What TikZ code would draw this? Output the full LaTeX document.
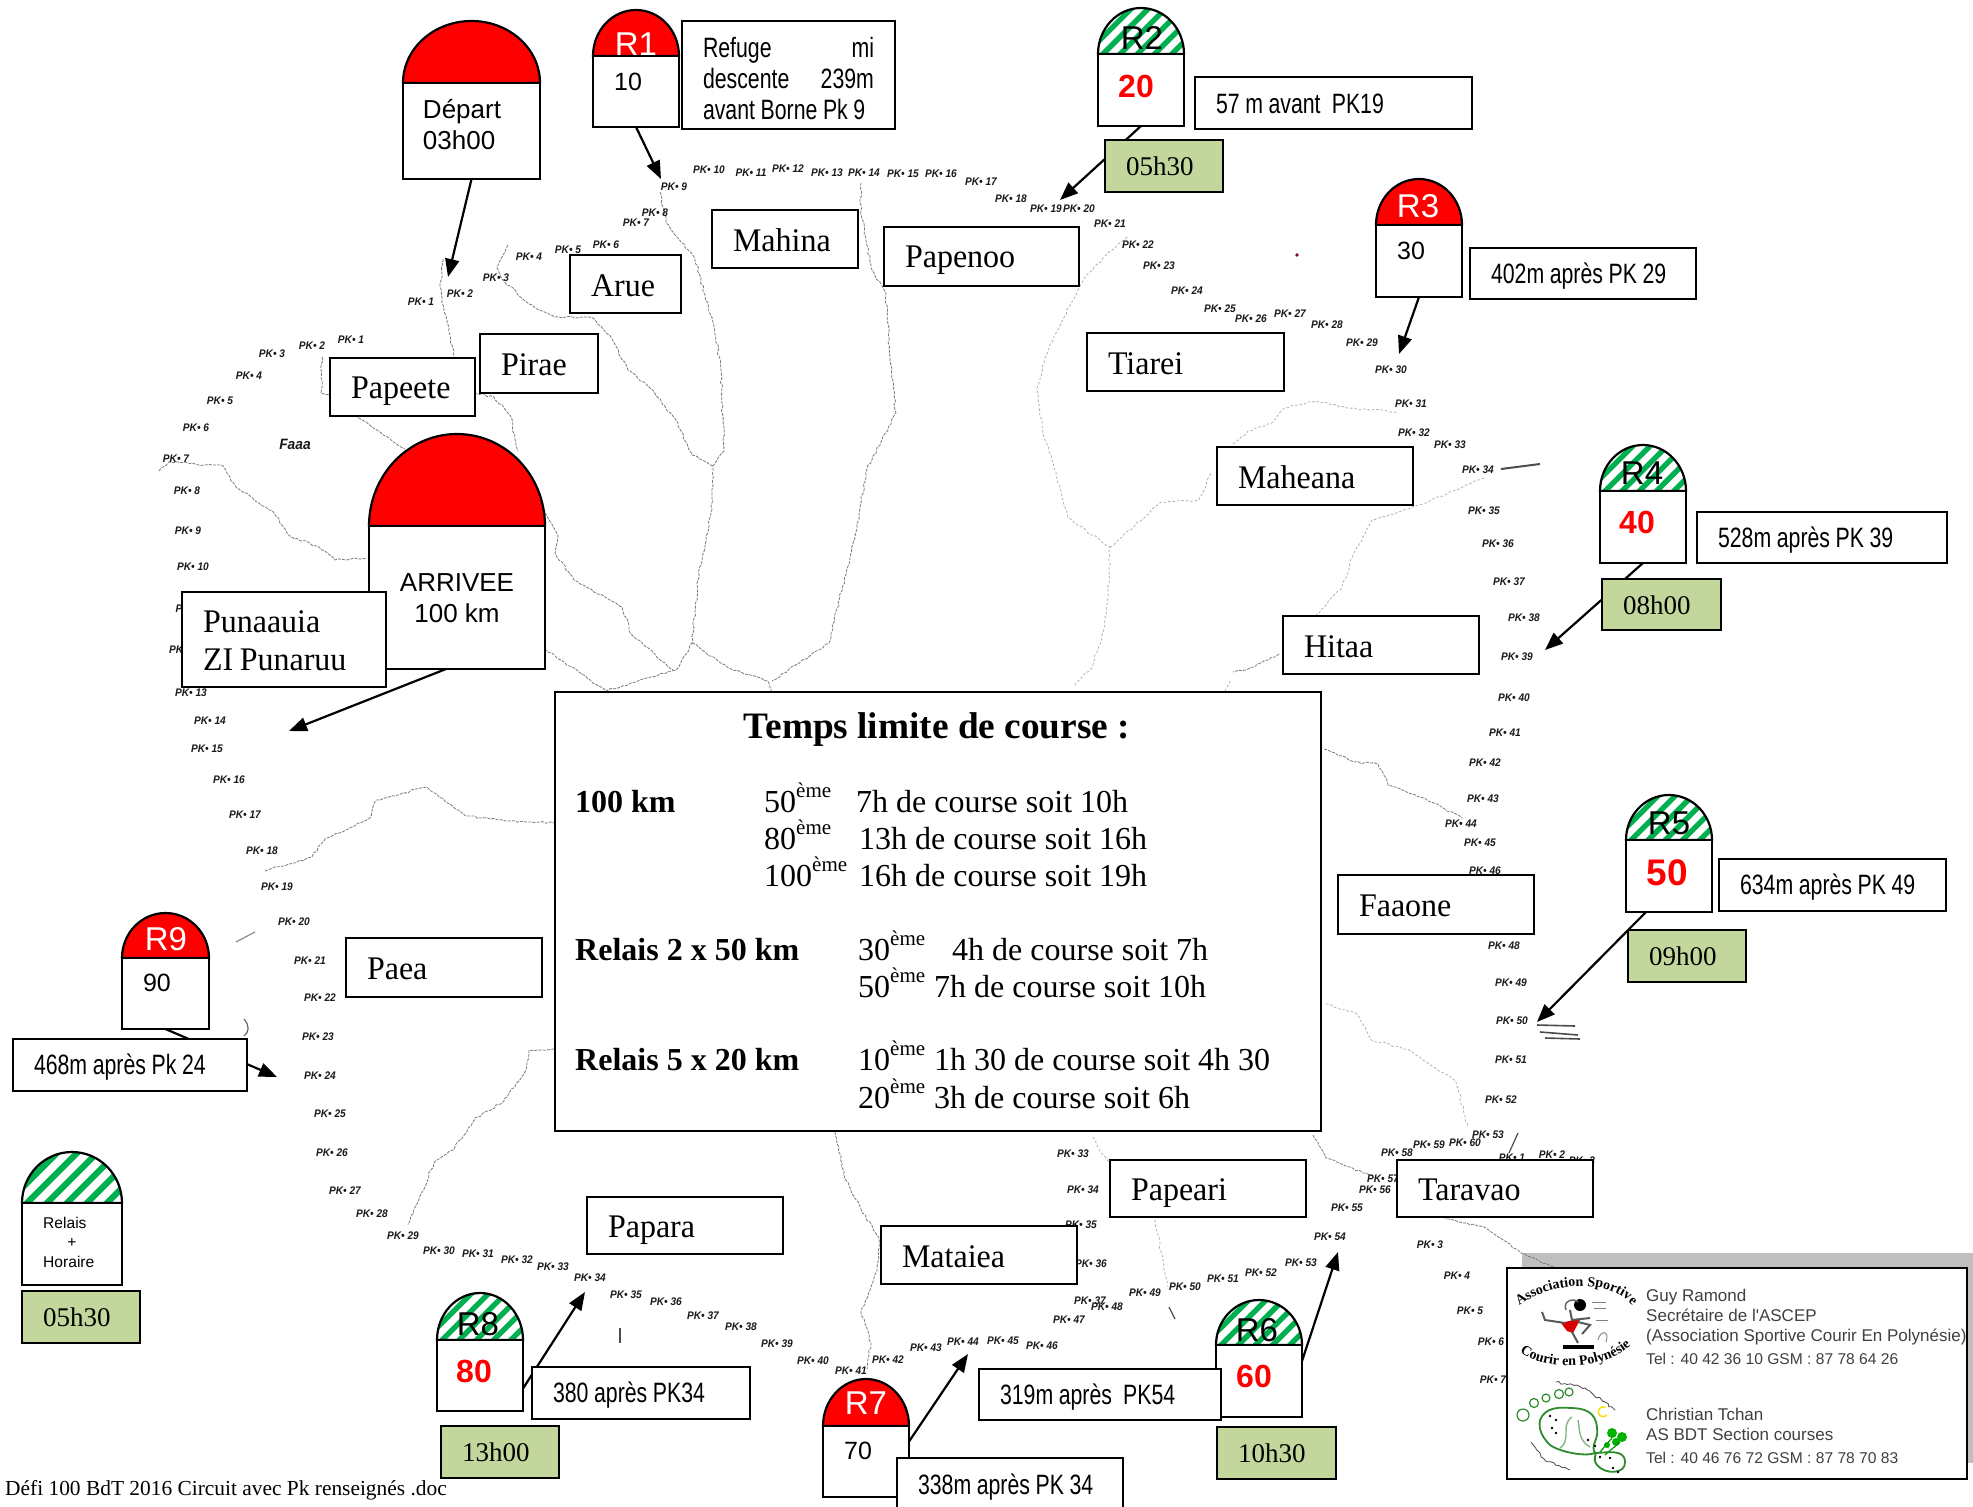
\documentclass[tikz,border=0pt]{standalone}
\usepackage{fontspec}
\usepackage{xcolor}
\usetikzlibrary{arrows.meta,decorations.pathmorphing,decorations.text,calc}
\setmainfont{Liberation Serif}
\newfontfamily\arial{Liberation Sans}
\newfontfamily\narrow[FakeStretch=0.76]{Liberation Sans}
\newfontfamily\tnrtight[FakeStretch=0.97]{Liberation Serif}
\newfontfamily\pkfont[FakeStretch=0.92]{Liberation Sans}
\newcommand{\fsz}[2]{\fontsize{#1}{#2}\selectfont}
\newcommand{\eme}{\raisebox{15pt}{\fsz{21}{21}ème}}
\definecolor{sage}{HTML}{C3D69B}
\definecolor{stripe}{HTML}{00B050}
\definecolor{contactgray}{HTML}{BFBFBF}
\definecolor{contacttext}{HTML}{404040}
\definecolor{rivercol}{HTML}{7A7A7A}
\definecolor{faintcol}{HTML}{B0B0B0}
\tikzset{
  box/.style={draw=black,line width=2.2pt,fill=white,inner sep=0pt,outer sep=0pt},
  rvr/.style={draw=rivercol,line width=0.8pt,decorate,decoration={random steps,segment length=4pt,amplitude=1.1pt},dash pattern=on 3pt off 1.2pt},
  rvrf/.style={rvr,draw=faintcol,dash pattern=on 2.5pt off 2pt},
  smear/.style={draw=black!70,line width=1.2pt},
  pklabel/.style={inner sep=0pt,text=black!90,font=\pkfont\itshape\bfseries\fsz{11}{12}},
  conn/.style={draw=black,line width=2.2pt,-{Triangle[length=18pt,width=14pt]}},
  tnr/.style={font=\tnrtight\fsz{33}{37.5},execute at begin node={\spaceskip=0.2em\relax\rule[-6pt]{0pt}{36pt}}},
  note/.style={font=\narrow\fsz{28}{31},execute at begin node={\spaceskip=0.2em\relax\rule[-4pt]{0pt}{29pt}}},
  hour/.style={fill=sage,font=\fsz{27}{30},execute at begin node={\rule[-5pt]{0pt}{29pt}}},
  num/.style={inner sep=0pt,font=\arial\fsz{25}{28}},
  rednum/.style={inner sep=0pt,text=red,font=\arial\bfseries\fsz{32}{34}},
  rtag/.style={inner sep=0pt,font=\arial\fsz{33}{34}},
  mbt/.style={anchor=base west,inner sep=0pt,font=\fsz{32}{32}},
  mbb/.style={anchor=base west,inner sep=0pt,font=\bfseries\fsz{32}{32}},
  contact/.style={anchor=base west,inner sep=0pt,text=contacttext,font=\arial\fsz{17}{17}},
  contel/.style={contact,font=\arial\fsz{15.6}{17}},
}
% name, xl, xr, top, base, bottom, kind (red / stripes)
\newcommand{\milestone}[7]{%
  \pgfmathsetmacro\mw{#3-#2}\pgfmathsetmacro\mh{#6-#5}\pgfmathsetmacro\mr{\mw/2}%
  \pgfmathsetmacro\md{#5-#4}\pgfmathsetmacro\mx{(#2+#3)/2}\pgfmathsetmacro\my{(#5+#6)/2}%
  \pgfmathsetmacro\ca{#5-0.5523*\md}\pgfmathsetmacro\cb{\mx-0.5523*\mr}\pgfmathsetmacro\cc{\mx+0.5523*\mr}%
  \def\domepath{(#2,#5) .. controls (#2,\ca) and (\cb,#4) .. (\mx,#4) .. controls (\cc,#4) and (#3,\ca) .. (#3,#5) -- cycle}%
  \ifnum#7=1
    \fill[red] \domepath;
  \else
    \fill[white] \domepath;
    \begin{scope}
      \clip \domepath;
      \pgfmathsetmacro\sp{\mw*0.2}\pgfmathsetmacro\sw{\mw*0.062}%
      \foreach \i in {-7,...,7}{
        \pgfmathsetmacro\sx{#2+\i*\sp}\pgfmathsetmacro\ex{\sx+\md+10}\pgfmathsetmacro\by{#5+5}\pgfmathsetmacro\ey{#5-\md-5}%
        \draw[stripe,line width=\sw pt] (\sx,\by) -- (\ex,\ey);
      }
    \end{scope}
  \fi
  \draw[black,line width=2.2pt] \domepath;
  \node[box,minimum width=\mw pt,minimum height=\mh pt] (#1) at (\mx,\my) {};
}
% [style]{name}{xl}{yt}{xr}{yb}{text}
\newcommand{\tbox}[7][]{%
  \pgfmathsetmacro\bw{#5-#3}\pgfmathsetmacro\bh{#6-#4}\pgfmathsetmacro\tw{\bw-42}%
  \pgfmathsetmacro\bx{(#3+#5)/2}\pgfmathsetmacro\by{(#4+#6)/2}%
  \node[box,#1,text width=\tw pt,inner xsep=21pt,minimum height=\bh pt,align=left] (#2) at (\bx,\by) {#7};
}
\begin{document}
\begin{tikzpicture}[x=1pt,y=-1pt]
\useasboundingbox (0,0) rectangle (1973,1507);
\fill[white] (0,0) rectangle (1973,1507);
\pgfmathsetseed{7}
\fill[contactgray] (1522,1253) rectangle (1973,1463);
% rivers
\draw[rvr] (443,259) -- (440,286) -- (444,312) -- (450,335) -- (454,357) -- (475,393) -- (494,397) -- (510,415) -- (518,451);
\draw[rvr] (508,245) -- (497,268) -- (504,281) -- (529,304) -- (555,317) -- (593,318) -- (612,339) -- (628,370) -- (650,388) -- (676,420) -- (692,455) -- (713,466);
\draw[rvr] (660,192) -- (666,223) -- (695,259) -- (705,295) -- (714,326) -- (721,370) -- (724,451) -- (713,466) -- (711,513) -- (698,580) -- (692,643) -- (676,670) -- (638,681) -- (606,691);
\draw[rvr] (545,513) -- (558,536) -- (555,553) -- (574,580) -- (622,607) -- (631,634) -- (673,670);
\draw[rvr] (545,649) -- (587,678) -- (606,691);
\draw[rvr] (692,643) -- (727,667) -- (768,681) -- (772,692);
\draw[rvr] (861,183) -- (861,210) -- (871,268) -- (886,295) -- (890,357) -- (896,413) -- (867,469) -- (855,536) -- (829,643) -- (772,681);
\draw[rvr] (322,357) -- (321,393) -- (330,395) -- (357,417) -- (405,449);
\draw[rvr] (159,471) -- (169,462) -- (223,466) -- (236,487) -- (274,513) -- (290,536) -- (319,547) -- (335,560) -- (367,558);
\draw[rvrf] (1127,237) -- (1109,252) -- (1084,279) -- (1071,303) -- (1050,344) -- (1037,388) -- (1043,433) -- (1056,473) -- (1068,518) -- (1110,547) -- (1109,580) -- (1105,625) -- (1093,665) -- (1074,687);
\draw[rvrf] (1110,547) -- (1161,502) -- (1199,500) -- (1211,473);
\draw[rvrf] (1233,444) -- (1248,431) -- (1273,422) -- (1285,408) -- (1316,401) -- (1347,408) -- (1397,412);
\draw[rvrf] (1484,478) -- (1453,491) -- (1409,509) -- (1372,520) -- (1354,553) -- (1341,589) -- (1316,615);
\draw[rvr] (1279,654) -- (1254,667) -- (1233,672);
\draw[rvrf] (1230,681) -- (1225,692);
\draw[rvr] (265,871) -- (312,857) -- (325,839) -- (370,818) -- (376,800) -- (427,787) -- (466,816) -- (510,821) -- (554,823);
\draw[rvr] (554,1049) -- (529,1050) -- (526,1070) -- (504,1101) -- (475,1119) -- (453,1150) -- (434,1163) -- (421,1194) -- (408,1225);
\draw[rvr] (835,1132) -- (845,1179) -- (861,1209) -- (879,1238) -- (877,1271) -- (861,1312) -- (871,1343) -- (867,1369);
\draw[rvr] (1324,749) -- (1354,762) -- (1378,764) -- (1388,785) -- (1434,803) -- (1462,818);
\draw[rvrf] (1326,1004) -- (1357,1014) -- (1372,1040) -- (1409,1050) -- (1456,1081) -- (1468,1127);
\draw[rvr] (1313,1135) -- (1326,1158) -- (1372,1176);
\draw[rvr] (1443,1217) -- (1484,1227) -- (1521,1253) -- (1558,1269);
\draw[rvrf] (1155,1220) -- (1164,1266) -- (1167,1287);
\draw[rvrf] (1093,1137) -- (1108,1163);
% marks on the map
\draw[smear] (1169,1307) -- (1175,1319);
\draw[smear] (1509,1153) -- (1518,1133);
\draw[smear,line width=2pt] (1501,469) -- (1540,464);
\draw[smear,line width=1.6pt] (1537,1025) -- (1575,1026);
\draw[smear,line width=1.6pt] (1540,1032) -- (1578,1035);
\draw[smear,line width=1.6pt] (1545,1038) -- (1580,1039);
\draw[smear,black!45] (236,942) -- (255,932);
\draw[smear,black!60] (244,1019) .. controls (250,1026) and (249,1032) .. (244,1036);
\draw[smear,line width=1.6pt] (620,1328) -- (620,1343);
\fill[purple!70!black] (1297,255) circle (1.8);
% PK labels
\foreach \x/\y/\lab [count=\n] in {
421/302/1,460/294/2,496/278/3,529/257/4,568/250/5,606/245/6,636/223/7,655/213/8,674/187/9,709/170/10,
751/173/11,788/169/12,827/173/13,864/173/14,903/174/15,941/174/16,981/182/17,1011/199/18,1046/209/19,1079/209/20,
1110/224/21,1138/245/22,1159/266/23,1187/291/24,1220/309/25,1251/319/26,1290/314/27,1327/325/28,1362/343/29,1391/370/30,
1411/404/31,1414/433/32,1450/445/33,1478/470/34,1484/511/35,1498/544/36,1509/582/37,1524/618/38,1517/657/39,1514/698/40,
1505/733/41,1485/763/42,1483/799/43,1461/824/44,1480/843/45,1485/871/46,1504/946/48,1511/983/49,1512/1021/50,1511/1060/51,
1501/1100/52,1488/1135/53,1465/1143/60,1429/1145/59,1397/1153/58,1383/1179/57,1375/1190/56,1347/1208/55,1330/1237/54,1301/1263/53,
1261/1273/52,1223/1279/51,1185/1287/50,1145/1293/49,1107/1307/48,1090/1301/37,1069/1320/47,1042/1346/46,1003/1341/45,963/1342/44,
926/1348/43,888/1360/42,851/1371/41,813/1361/40,777/1344/39,741/1327/38,703/1316/37,666/1302/36,626/1295/35,590/1278/34,
553/1267/33,517/1260/32,478/1254/31,439/1251/30,403/1236/29,372/1214/28,345/1191/27,332/1153/26,330/1114/25,320/1076/24,
318/1037/23,320/998/22,310/961/21,294/922/20,277/887/19,262/851/18,245/815/17,229/780/16,207/749/15,210/721/14,
191/693/13,185/650/12,191/609/11,193/567/10,188/531/9,187/491/8,176/459/7,196/428/6,220/401/5,249/376/4,
272/354/3,312/346/2,351/340/1,1512/1158/1,1552/1155/2,1582/1161/3,1430/1245/3,1457/1276/4,1470/1311/5,1491/1342/6,
1493/1380/7,1073/1154/33,1083/1190/34,1081/1225/35,1091/1264/36}
  \node[pklabel] (pk\n) at (\x,\y) {PK• \lab};
\node[pklabel,font=\pkfont\itshape\bfseries\fsz{15}{16}] (faaa) at (295,444) {Faaa};
% commune labels
\tbox[tnr]{mahina}{712}{210}{858}{268}{Mahina}
\tbox[tnr]{papenoo}{884}{227}{1079}{286}{Papenoo}
\tbox[tnr]{arue}{570}{255}{681}{313}{Arue}
\tbox[tnr]{pirae}{480}{334}{598}{393}{Pirae}
\tbox[tnr]{papeete}{330}{358}{475}{416}{Papeete}
\tbox[tnr]{tiarei}{1087}{333}{1284}{391}{Tiarei}
\tbox[tnr]{maheana}{1217}{447}{1413}{505}{Maheana}
\tbox[tnr]{hitaa}{1283}{616}{1479}{674}{Hitaa}
\tbox[tnr]{faaone}{1338}{875}{1534}{934}{Faaone}
\tbox[tnr]{paea}{346}{938}{542}{997}{Paea}
\tbox[tnr]{papara}{587}{1197}{783}{1254}{Papara}
\tbox[tnr]{mataiea}{881}{1226}{1077}{1284}{Mataiea}
\tbox[tnr]{papeari}{1110}{1160}{1306}{1217}{Papeari}
\tbox[tnr]{taravao}{1397}{1160}{1593}{1217}{Taravao}
% Depart
\milestone{depart}{403}{540}{21}{83}{179}{1}
\node[inner sep=0pt,align=left,font=\arial\fsz{26}{31}] (departtxt) at (462,125) {Départ\\03h00};
\coordinate (departend) at (448,277);
\draw[conn] (depart.south) -- (departend);
% Arrivee
\milestone{arrivee}{369}{545}{434}{526}{669}{1}
\node[inner sep=0pt,align=center,font=\arial\fsz{26}{31.5}] (arriveetxt) at (457,598) {ARRIVEE\\100 km};
\coordinate (arriveeend) at (289,731);
\draw[conn] ([xshift=-11pt]arrivee.south) -- (arriveeend);
\tbox[tnr]{punaauia}{182}{592}{386}{687}{Punaauia\\ZI Punaruu\rule[-6pt]{0pt}{0pt}}
% R1
\milestone{r1}{593}{679}{10}{56}{127}{1}
\node[rtag,text=white] (r1tag) at (636,44) {R1};
\node[num] (r1num) at (628,82) {10};
\tbox[note]{r1note}{682}{21}{895}{129}{\rule{0pt}{31pt}\makebox[171pt]{Refuge\hfill mi}\\\makebox[171pt]{descente\hfill 239m}\\\mbox{avant Borne Pk 9}\rule[-4pt]{0pt}{0pt}}
\coordinate (r1end) at (661,179);
\draw[conn] (r1.south) -- (r1end);
% R2
\milestone{r2}{1098}{1184}{8}{54}{126}{0}
\node[rtag] (r2tag) at (1142,38) {R2};
\node[rednum] (r2num) at (1136,86) {20};
\tbox[note]{r2note}{1195}{77}{1472}{129}{\mbox{57 m avant \ PK19}}
\coordinate (r2end) at (1060,200);
\draw[conn] (r2.south) -- (r2end);
\tbox[hour]{r2hour}{1105}{140}{1223}{192}{05h30}
% R3
\milestone{r3}{1376}{1462}{179}{225}{297}{1}
\node[rtag,text=white] (r3tag) at (1418,206) {R3};
\node[num] (r3num) at (1411,251) {30};
\tbox[note]{r3note}{1470}{248}{1696}{299}{\mbox{402m après PK 29}}
\coordinate (r3end) at (1399,354);
\draw[conn] (r3.south) -- (r3end);
% R4
\milestone{r4}{1600}{1686}{445}{491}{563}{0}
\node[rtag] (r4tag) at (1642,473) {R4};
\node[rednum] (r4num) at (1637,522) {40};
\tbox[note]{r4note}{1697}{512}{1947}{563}{\mbox{528m après PK 39}}
\coordinate (r4end) at (1545,650);
\draw[conn] (r4.south) -- (r4end);
\tbox[hour]{r4hour}{1602}{579}{1721}{630}{08h00}
% R5
\milestone{r5}{1626}{1712}{795}{840}{912}{0}
\node[rtag] (r5tag) at (1669,823) {R5};
\node[rednum,font=\arial\bfseries\fsz{37}{38}] (r5num) at (1667,873) {50};
\tbox[note]{r5note}{1719}{859}{1946}{911}{\mbox{634m après PK 49}}
\tbox[hour]{r5hour}{1628}{930}{1746}{982}{09h00}
\coordinate (r5end) at (1537,1022);
\draw[conn] ([xshift=-23pt]r5.south) -- (r5end);
% R6
\milestone{r6}{1216}{1302}{1300}{1345}{1417}{0}
\node[rtag] (r6tag) at (1257,1330) {R6};
\node[rednum] (r6num) at (1254,1376) {60};
\tbox[note]{r6note}{979}{1369}{1221}{1420}{\mbox{319m après \ PK54}}
\tbox[hour]{r6hour}{1217}{1427}{1336}{1479}{10h30}
\coordinate (r6end) at (1338,1252);
\draw[conn] ([yshift=20pt]r6.east) -- (r6end);
% R7
\milestone{r7}{823}{909}{1379}{1426}{1497}{1}
\node[rtag,text=white] (r7tag) at (866,1403) {R7};
\node[num] (r7num) at (858,1451) {70};
\coordinate (r7end) at (968,1354);
\draw[conn] ([yshift=20pt]r7.east) -- (r7end);
\tbox[note]{r7note}{897}{1458}{1123}{1512}{\mbox{338m après PK 34}}
% R8
\milestone{r8}{437}{523}{1293}{1340}{1411}{0}
\node[rtag] (r8tag) at (478,1324) {R8};
\node[rednum] (r8num) at (474,1371) {80};
\coordinate (r8end) at (585,1292);
\draw[conn] ([yshift=-13pt]r8.east) -- (r8end);
\tbox[note]{r8note}{532}{1367}{750}{1419}{\mbox{380 après PK34}}
\tbox[hour]{r8hour}{441}{1426}{559}{1478}{13h00}
% R9
\milestone{r9}{122}{209}{913}{958}{1029}{1}
\node[rtag,text=white] (r9tag) at (166,939) {R9};
\node[num] (r9num) at (157,983) {90};
\coordinate (r9end) at (277,1077);
\draw[conn] (r9.south) -- (r9end);
\tbox[note]{r9note}{13}{1039}{247}{1091}{\mbox{468m après Pk 24}}
% legend
\milestone{legend}{22}{122}{1152}{1203}{1285}{0}
\node[anchor=west,inner sep=0pt,font=\arial\fsz{15.6}{16}] (legrelais) at (43,1223) {Relais};
\node[inner sep=0pt,font=\arial\fsz{15.6}{16}] (legplus) at (72,1243) {+};
\node[anchor=west,inner sep=0pt,font=\arial\fsz{15.6}{16}] (leghoraire) at (43,1262) {Horaire};
\tbox[hour]{leghour}{22}{1291}{140}{1343}{05h30}
% time limits
\node[box,minimum width=766pt,minimum height=439pt] (limits) at (938,911.5) {};
\node[inner sep=0pt,font=\bfseries\fsz{37.3}{38}] (title) at (937,730) {Temps limite de course :};
\node[mbb] (a1) at (575,812) {100 km};
\node[mbt] (a2) at (764,812) {50\eme};
\node[mbt] (a3) at (856,812) {7h de course soit 10h};
\node[mbt] (a4) at (764,849) {80\eme};
\node[mbt] (a5) at (859,849) {13h de course soit 16h};
\node[mbt] (a6) at (764,886) {100\eme};
\node[mbt] (a7) at (859,886) {16h de course soit 19h};
\node[mbb] (b1) at (575,960) {Relais 2 x 50 km};
\node[mbt] (b2) at (858,960) {30\eme};
\node[mbt] (b3) at (952,960) {4h de course soit 7h};
\node[mbt] (b4) at (858,997) {50\eme};
\node[mbt] (b5) at (934,997) {7h de course soit 10h};
\node[mbb] (c1) at (575,1070) {Relais 5 x 20 km};
\node[mbt] (c2) at (858,1070) {10\eme};
\node[mbt] (c3) at (934,1070) {1h 30 de course soit 4h 30};
\node[mbt] (c4) at (858,1108) {20\eme};
\node[mbt] (c5) at (934,1108) {3h de course soit 6h};
% footer
\node[anchor=west,inner sep=0pt,font=\fsz{21.4}{22}] (footer) at (5,1490) {Défi 100 BdT 2016 Circuit avec Pk renseignés .doc};
% contact box
\node[box,line width=2.4pt,minimum width=460pt,minimum height=211pt] (contactbox) at (1737,1373.5) {};
\node[contact] (g1) at (1646,1301) {Guy Ramond};
\node[contact] (g2) at (1646,1321) {Secrétaire de l'ASCEP};
\node[contact] (g3) at (1646,1341) {(Association Sportive Courir En Polynésie)};
\node[contel] (g4) at (1646,1364) {Tel : 40 42 36 10 GSM : 87 78 64 26};
\node[contact] (h1) at (1646,1420) {Christian Tchan};
\node[contact] (h2) at (1646,1440) {AS BDT Section courses};
\node[contel] (h3) at (1646,1463) {Tel : 40 46 76 72 GSM : 87 78 70 83};
% logo 1
\path[decorate,decoration={text along path,text align={center},text={|\fsz{14}{14}\bfseries|Association Sportive}}]
  (1513,1313) .. controls (1533,1285) and (1612,1270) .. (1638,1313);
\path[decorate,decoration={text along path,text align={center},text={|\fsz{14}{14}\bfseries|Courir en Polynésie}}]
  (1512,1345) .. controls (1535,1374) and (1612,1374) .. (1638,1337);
\fill[black] (1580,1305) circle (6);
\draw[black!60,line width=1.5pt] (1566,1310) .. controls (1562,1300) and (1575,1298) .. (1578,1302);
\fill[red!85!black] (1561,1323) -- (1581,1318) -- (1573,1333) -- (1567,1331) -- cycle;
\draw[black!65,line width=2pt] (1565,1323) -- (1545,1320) -- (1542,1312);
\draw[black!65,line width=2pt] (1578,1322) -- (1590,1325) -- (1582,1334);
\draw[black!65,line width=2pt] (1572,1332) -- (1578,1343);
\draw[black!65,line width=2pt] (1570,1310) -- (1572,1320) -- (1590,1318);
\fill[black] (1563,1345) rectangle (1594,1349);
\draw[black!50,line width=1pt] (1592,1302) -- (1606,1302) (1594,1308) -- (1606,1308) (1596,1320) -- (1608,1320);
\draw[black!45,line width=1pt] (1598,1340) .. controls (1600,1330) and (1610,1330) .. (1606,1342);
% logo 2
\definecolor{logogreen}{HTML}{2E8B2E}
\draw[logogreen,line width=1.8pt] (1540,1420) .. controls (1545,1407) and (1560,1407) .. (1570,1408) .. controls (1585,1408) and (1596,1412) .. (1597,1428) .. controls (1599,1440) and (1590,1445) .. (1595,1453) .. controls (1605,1453) and (1625,1448) .. (1625,1462) .. controls (1626,1474) and (1605,1475) .. (1597,1465) .. controls (1592,1458) and (1597,1456) .. (1595,1453) .. controls (1585,1457) and (1560,1452) .. (1550,1445) .. controls (1543,1438) and (1538,1430) .. (1540,1420) -- cycle;
\draw[logogreen!60!white,line width=1.4pt] (1572,1417) .. controls (1560,1425) and (1572,1440) .. (1560,1448) (1578,1420) .. controls (1580,1430) and (1578,1440) .. (1590,1447);
\draw[logogreen,line width=1.2pt] (1523,1415) circle (6) (1534,1403) circle (4.5) (1546,1398) circle (4) (1559,1394) circle (4.5) (1569,1392) circle (4);
\fill[green!70!black] (1612,1433) circle (5) (1622,1437) circle (5) (1616,1442) circle (4) (1607,1445) circle (3);
\draw[green!60!black,line width=1.2pt] (1600,1452) -- (1612,1438) (1605,1455) -- (1620,1442);
\draw[yellow!80!orange,line width=1.4pt] (1607,1415) arc[start angle=40,end angle=300,radius=5];
\foreach \dx/\dy in {1550/1416,1556/1420,1552/1428,1556/1433,1588/1440,1595/1446,1600/1457,1610/1458,1613/1468,1618/1472}
  \fill[black] (\dx,\dy) circle (1.4);
\draw[black!70,line width=0.8pt,decorate,decoration={random steps,segment length=3pt,amplitude=1.2pt}] (1556,1382) -- (1585,1388) -- (1615,1410);
\draw[black!70,line width=0.8pt,decorate,decoration={random steps,segment length=3pt,amplitude=1.2pt}] (1531,1442) -- (1545,1460) -- (1570,1470);
\end{tikzpicture}
\end{document}
